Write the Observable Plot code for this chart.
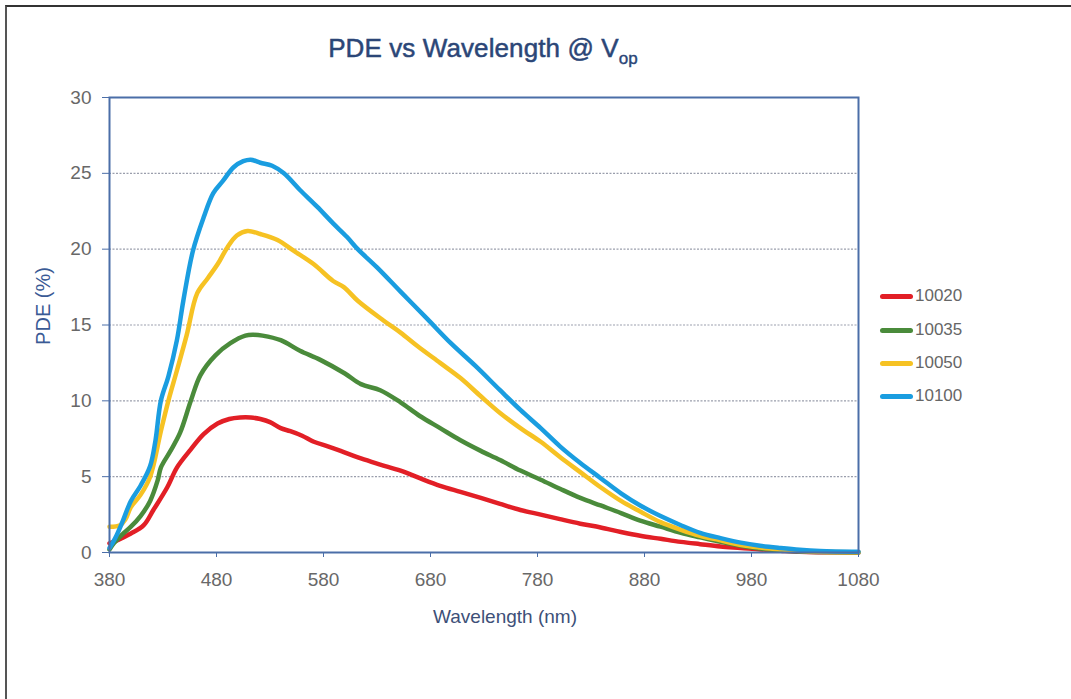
<!DOCTYPE html>
<html>
<head>
<meta charset="utf-8">
<script src="https://cdn.jsdelivr.net/npm/d3@7"></script>
<script src="https://cdn.jsdelivr.net/npm/@observablehq/plot@0.6"></script>
<style>
  html, body { margin: 0; padding: 0; background: #fff; }
  #page { position: relative; width: 1071px; height: 699px; overflow: hidden; font-family: "Liberation Sans", Arial, sans-serif; }
  #border { position: absolute; left: 5px; top: 5px; right: -10px; bottom: -10px; border-left: 2px solid #555; border-top: 2px solid #333; }
  #chart { position: absolute; left: 0; top: 0; }
  #title { position: absolute; left: 0; width: 966px; top: 35px; text-align: center; font-size: 26px; line-height: 26px; color: #2b4677; white-space: nowrap; -webkit-text-stroke: 0.5px #2b4677; letter-spacing: 0.1px; }
  #title sub { font-size: 17px; vertical-align: -7px; line-height: 0; -webkit-text-stroke: 0.4px #2b4677; }
  #ylabel { position: absolute; left: 43px; top: 306px; transform: translate(-50%, -50%) rotate(-90deg); font-size: 20px; line-height: 20px; color: #3a5a95; white-space: nowrap; }
  #xlabel { position: absolute; left: 505px; top: 607px; transform: translateX(-50%); font-size: 19px; line-height: 19px; color: #3d5078; white-space: nowrap; }
  #legend { position: absolute; left: 880px; top: 0; }
  .lg { position: absolute; left: 0; height: 20px; display: flex; align-items: center; white-space: nowrap; font-size: 17px; color: #666; transform: translateY(-50%); }
  .lg .sw { display: inline-block; width: 33px; height: 5px; border-radius: 3px; margin-right: 2px; }
  g[aria-label="x-axis tick"], g[aria-label="y-axis tick"] { stroke: #4b6ea8; }
</style>
</head>
<body>
<div id="page">
  <div id="border"></div>
  <div id="chart"></div>
  <div id="title">PDE vs Wavelength @ V<sub>op</sub></div>
  <div id="ylabel">PDE (%)</div>
  <div id="xlabel">Wavelength (nm)</div>
  <div id="legend"></div>
</div>
<script>
// ---- data ----
const seriesNames = ["10020", "10035", "10050", "10100"];
const seriesColors = ["#e21f26", "#4a8b3b", "#f6c223", "#1a9de0"];

const wl10020  = [380, 390, 400, 412, 421, 434, 443, 456, 468, 481, 492, 502, 512, 521, 530, 540, 549, 560, 571, 584, 596, 615, 633, 652, 670, 689, 708, 727, 745, 764, 783, 801, 820, 839, 858, 876, 895, 914, 932, 951, 970, 988, 1007, 1025, 1044, 1080];
const pde10020 = [0.6, 0.9, 1.25, 1.8, 2.8, 4.3, 5.6, 6.8, 7.8, 8.5, 8.8, 8.9, 8.9, 8.8, 8.6, 8.2, 8.0, 7.7, 7.3, 7.0, 6.7, 6.2, 5.8, 5.4, 4.9, 4.4, 4.0, 3.6, 3.2, 2.8, 2.5, 2.2, 1.9, 1.65, 1.35, 1.1, 0.9, 0.7, 0.55, 0.4, 0.3, 0.2, 0.12, 0.05, 0.02, 0.0];

const wl10035  = [380, 384, 392, 400, 409, 418, 425, 428, 437, 446, 456, 465, 479, 493, 507, 515, 523, 540, 558, 577, 600, 615, 633, 652, 670, 689, 708, 727, 745, 764, 783, 801, 820, 839, 858, 876, 895, 914, 932, 951, 970, 988, 1007, 1025, 1044, 1080];
const pde10035 = [0.2, 0.6, 1.2, 1.7, 2.4, 3.4, 4.75, 5.6, 6.7, 7.9, 10.0, 11.7, 13.0, 13.8, 14.3, 14.35, 14.3, 14.0, 13.3, 12.7, 11.8, 11.1, 10.7, 9.9, 9.0, 8.2, 7.4, 6.7, 6.1, 5.4, 4.8, 4.2, 3.6, 3.1, 2.6, 2.1, 1.7, 1.3, 1.0, 0.7, 0.45, 0.27, 0.13, 0.06, 0.03, 0.0];

const wl10050  = [380, 390, 395, 400, 409, 418, 428, 435, 443, 452, 462, 472, 481, 490, 499, 509, 521, 537, 552, 571, 589, 599, 612, 636, 652, 668, 689, 708, 727, 745, 764, 783, 801, 820, 839, 858, 876, 895, 914, 932, 951, 970, 988, 1007, 1025, 1044, 1080];
const pde10050 = [1.7, 1.8, 2.2, 3.0, 3.8, 5.0, 8.0, 10.0, 12.0, 14.3, 17.1, 18.1, 19.0, 20.1, 20.9, 21.2, 21.0, 20.6, 19.9, 19.0, 17.9, 17.5, 16.6, 15.3, 14.5, 13.6, 12.5, 11.5, 10.3, 9.2, 8.2, 7.3, 6.3, 5.3, 4.3, 3.4, 2.7, 2.0, 1.5, 1.1, 0.8, 0.5, 0.33, 0.2, 0.1, 0.05, 0.02];

const wl10100  = [380, 385, 392, 400, 409, 418, 423, 428, 435, 443, 449, 458, 468, 477, 486, 496, 505, 512, 521, 532, 543, 558, 574, 589, 602, 612, 630, 652, 677, 699, 722, 745, 764, 783, 801, 820, 839, 858, 876, 895, 914, 932, 951, 970, 988, 1007, 1025, 1044, 1080];
const pde10100 = [0.3, 0.9, 2.0, 3.4, 4.4, 5.7, 7.4, 10.0, 11.6, 14.0, 16.6, 19.9, 22.1, 23.7, 24.5, 25.4, 25.8, 25.9, 25.7, 25.5, 25.0, 23.9, 22.8, 21.7, 20.8, 20.0, 18.8, 17.2, 15.4, 13.8, 12.3, 10.7, 9.4, 8.2, 7.0, 5.9, 4.9, 3.9, 3.1, 2.4, 1.8, 1.3, 0.95, 0.65, 0.45, 0.3, 0.18, 0.1, 0.05];

const xTicks = [380, 480, 580, 680, 780, 880, 980, 1080];
const yTicks = [0, 5, 10, 15, 20, 25, 30];
const gridTicks = [5, 10, 15, 20, 25];

// ---- build tidy table ----
const wls = [wl10020, wl10035, wl10050, wl10100];
const pdes = [pde10020, pde10035, pde10050, pde10100];
const rows = [];
seriesNames.forEach((name, i) => {
  wls[i].forEach((w, j) => rows.push({series: name, wavelength: w, pde: pdes[i][j]}));
});

const frameColor = "#4b6ea8";

const chart = Plot.plot({
  width: 1071,
  height: 699,
  marginLeft: 109,
  marginRight: 213,
  marginTop: 97,
  marginBottom: 147,
  style: {fontFamily: "'Liberation Sans', Arial, sans-serif", fontSize: "19px", background: "transparent"},
  x: {domain: [380, 1080]},
  y: {domain: [0, 30]},
  color: {domain: seriesNames, range: seriesColors},
  marks: [
    Plot.gridY(gridTicks, {stroke: "#8f93a3", strokeOpacity: 0.9, strokeWidth: 1.2, strokeDasharray: "2,1.5"}),
    Plot.line(rows, {x: "wavelength", y: "pde", z: "series", stroke: "series", strokeWidth: 4.5, curve: "catmull-rom", strokeLinecap: "round", strokeLinejoin: "round"}),
    Plot.frame({stroke: frameColor, strokeWidth: 2}),
    Plot.axisX({ticks: xTicks, tickFormat: d => String(d), tickSize: 5, tickPadding: 15, label: null, color: "#686868", fontSize: 19}),
    Plot.axisY({ticks: yTicks, tickFormat: d => String(d), tickSize: 7, tickPadding: 11, label: null, color: "#686868", fontSize: 19})
  ]
});
document.getElementById("chart").appendChild(chart);

// ---- legend ----
const legendY = [296, 330, 363, 396];
const legend = document.getElementById("legend");
seriesNames.forEach((name, i) => {
  const row = document.createElement("div");
  row.className = "lg";
  row.style.top = legendY[i] + "px";
  const sw = document.createElement("span");
  sw.className = "sw";
  sw.style.background = seriesColors[i];
  row.appendChild(sw);
  row.appendChild(document.createTextNode(name));
  legend.appendChild(row);
});
</script>
</body>
</html>
